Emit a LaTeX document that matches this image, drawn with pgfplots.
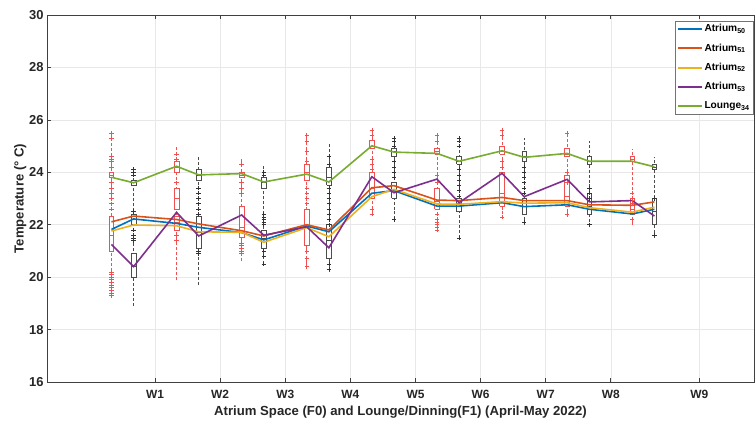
\documentclass[border=0pt]{standalone}
\usepackage{fontspec}
\setmainfont{Liberation Sans}
\usepackage{pgfplots}
\pgfplotsset{compat=1.18}
\definecolor{mBlue}{HTML}{0072BD}
\definecolor{mOrange}{HTML}{D95319}
\definecolor{mYellow}{HTML}{EDB120}
\definecolor{mPurple}{HTML}{7E2F8E}
\definecolor{mGreen}{HTML}{77AC30}
\definecolor{boxRed}{HTML}{F05050}

% box: color, position, lower whisker, lower quartile, median, upper quartile, upper whisker
\newcommand{\bxp}[7]{%
  \pgfmathsetmacro\xa{#2-0.036}\pgfmathsetmacro\xb{#2+0.036}%
  \addplot[forget plot, #1, densely dashed, line width=0.6bp] coordinates {(#2,#3) (#2,#7)};
  \edef\tmp{\noexpand\addplot[forget plot, #1, fill=white, line width=0.7bp]
    coordinates {(\xa,#4) (\xb,#4) (\xb,#6) (\xa,#6) (\xa,#4)};}\tmp
  \edef\tmp{\noexpand\addplot[forget plot, #1, line width=0.6bp]
    coordinates {(\xa,#5) (\xb,#5)};}\tmp
}

\begin{document}
\begin{tikzpicture}
\begin{axis}[
  scale only axis,
  width=707bp, height=367bp,
  xmin=-0.66, xmax=10.2,
  ymin=16, ymax=30,
  xtick={1,2,3,4,5,6,7,8,9.36},
  xticklabels={W1,W2,W3,W4,W5,W6,W7,W8,W9},
  ytick={16,18,...,30},
  tick align=inside,
  xtick pos=both, ytick pos=left,
  major tick length=4bp,
  grid=major,
  grid style={gray!18, line width=0.5bp},
  axis line style={black!75, line width=0.6bp},
  tick style={black!75, line width=0.6bp},
  /pgf/number format/assume math mode=true,
  xticklabel style={font=\bfseries\fontsize{12}{14}\selectfont, black!85, yshift=-5bp},
  yticklabel style={font=\bfseries\fontsize{13}{15}\selectfont, black!85},
  xlabel={Atrium Space (F0) and Lounge/Dinning(F1) (April-May 2022)},
  ylabel={Temperature (° C)},
  label style={font=\bfseries\fontsize{13.2}{15}\selectfont, black!85},
  xlabel style={yshift=0bp},
  ylabel style={yshift=-4bp},
  legend image code/.code={\draw[#1] (0bp,0bp) -- (24bp,0bp);},
  legend style={at={(0.999,0.985)}, anchor=north east, draw=black!55,
    font=\bfseries\fontsize{10.2}{12}\selectfont, inner sep=1.5bp,
    row sep=6.6bp, cells={anchor=west}},
  legend cell align=left,
  clip=false,
]
\path (rel axis cs:0,0) coordinate (ll) (rel axis cs:1,1) coordinate (ur);

\addlegendimage{mBlue, line width=2bp}\addlegendentry{Atrium\textsubscript{50}}
\addlegendimage{mOrange, line width=2bp}\addlegendentry{Atrium\textsubscript{51}}
\addlegendimage{mYellow, line width=2bp}\addlegendentry{Atrium\textsubscript{52}}
\addlegendimage{mPurple, line width=2bp}\addlegendentry{Atrium\textsubscript{53}}
\addlegendimage{mGreen, line width=2bp}\addlegendentry{Lounge\textsubscript{34}}

% ---- box plots (F0 red, F1 black)
\bxp{boxRed}{0.33}{19.3}{21.0}{21.6}{22.3}{25.5}
\bxp{boxRed}{0.33}{23.8}{23.8}{23.9}{24.0}{24.0}
\bxp{black!70}{0.67}{18.9}{22.0}{22.2}{22.4}{24.1}
\bxp{black!70}{0.67}{23.5}{23.5}{23.6}{23.7}{23.7}
\bxp{black!70}{0.67}{20.0}{20.0}{20.4}{20.9}{20.9}
\bxp{boxRed}{1.33}{19.9}{21.8}{22.1}{22.3}{25.0}
\bxp{boxRed}{1.33}{22.6}{22.6}{23.0}{23.4}{23.4}
\bxp{boxRed}{1.33}{24.0}{24.0}{24.2}{24.4}{24.4}
\bxp{black!70}{1.67}{19.7}{21.1}{21.7}{22.3}{24.6}
\bxp{black!70}{1.67}{23.7}{23.7}{23.9}{24.1}{24.1}
\bxp{boxRed}{2.33}{20.6}{21.5}{21.9}{22.7}{24.5}
\bxp{boxRed}{2.33}{23.8}{23.8}{23.9}{24.0}{24.0}
\bxp{black!70}{2.67}{20.5}{21.1}{21.5}{21.8}{24.3}
\bxp{black!70}{2.67}{23.4}{23.4}{23.6}{23.8}{23.8}
\bxp{boxRed}{3.33}{20.3}{21.2}{21.9}{22.6}{25.4}
\bxp{boxRed}{3.33}{23.7}{23.7}{24.0}{24.3}{24.3}
\bxp{black!70}{3.67}{20.2}{20.7}{21.4}{22.0}{25.1}
\bxp{black!70}{3.67}{23.5}{23.5}{23.8}{24.2}{24.2}
\bxp{boxRed}{4.33}{22.4}{23.0}{23.4}{24.0}{25.6}
\bxp{boxRed}{4.33}{24.9}{24.9}{25.0}{25.2}{25.2}
\bxp{black!70}{4.67}{22.2}{23.0}{23.3}{23.6}{25.3}
\bxp{black!70}{4.67}{24.6}{24.6}{24.8}{24.9}{24.9}
\bxp{boxRed}{5.33}{21.8}{22.6}{22.9}{23.4}{25.4}
\bxp{boxRed}{5.33}{24.7}{24.7}{24.8}{24.9}{24.9}
\bxp{black!70}{5.67}{21.5}{22.5}{22.8}{23.0}{25.3}
\bxp{black!70}{5.67}{24.3}{24.3}{24.4}{24.6}{24.6}
\bxp{boxRed}{6.33}{22.2}{22.7}{23.2}{24.0}{25.6}
\bxp{boxRed}{6.33}{24.7}{24.7}{24.8}{25.0}{25.0}
\bxp{black!70}{6.67}{22.0}{22.4}{22.7}{23.0}{25.3}
\bxp{black!70}{6.67}{24.4}{24.4}{24.6}{24.8}{24.8}
\bxp{boxRed}{7.33}{22.3}{22.7}{23.1}{23.9}{25.5}
\bxp{boxRed}{7.33}{24.6}{24.6}{24.7}{24.9}{24.9}
\bxp{black!70}{7.67}{21.9}{22.4}{22.7}{23.2}{25.2}
\bxp{black!70}{7.67}{24.3}{24.3}{24.4}{24.6}{24.6}
\bxp{boxRed}{8.33}{22.0}{22.4}{22.6}{23.0}{24.9}
\bxp{boxRed}{8.33}{24.4}{24.4}{24.5}{24.6}{24.6}
\bxp{black!70}{8.67}{21.5}{22.0}{22.5}{23.0}{24.6}
\bxp{black!70}{8.67}{24.1}{24.1}{24.2}{24.3}{24.3}

% ---- outliers
\addplot[forget plot, only marks, mark=+, mark size=2.2bp, boxRed, line width=0.6bp] coordinates {
 (0.33,19.3) (0.33,19.4) (0.33,19.5) (0.33,19.6) (0.33,19.7) (0.33,19.8) (0.33,19.9) (0.33,20.0) (0.33,20.1) (0.33,20.2)
 (0.33,22.6) (0.33,22.8) (0.33,23.0) (0.33,23.2) (0.33,23.4) (0.33,23.6) (0.33,24.2) (0.33,24.4) (0.33,24.5) (0.33,24.6) (0.33,25.3) (0.33,25.5)
 (1.33,21.4) (1.33,21.6) (1.33,23.6) (1.33,24.5) (1.33,24.7)
 (2.33,20.9) (2.33,21.0) (2.33,21.1) (2.33,21.2) (2.33,21.3) (2.33,23.2) (2.33,23.4) (2.33,23.6) (2.33,24.3)
 (3.33,20.4) (3.33,20.7) (3.33,21.0) (3.33,22.8) (3.33,23.0) (3.33,23.2) (3.33,23.4) (3.33,24.4) (3.33,24.8) (3.33,25.2) (3.33,25.4)
 (4.33,22.4) (4.33,22.6) (4.33,24.1) (4.33,24.3) (4.33,24.5) (4.33,25.4) (4.33,25.6)
 (5.33,21.8) (5.33,21.9) (5.33,22.0) (5.33,22.1) (5.33,22.2) (5.33,22.4) (5.33,23.6) (5.33,23.9) (5.33,25.2) (5.33,25.4)
 (6.33,22.3) (6.33,24.2) (6.33,24.4) (6.33,25.4) (6.33,25.6)
 (7.33,22.4) (7.33,23.6) (7.33,24.0) (7.33,25.5)
 (8.33,22.2) (8.33,22.8) (8.33,23.0) (8.33,23.2)
};
\addplot[forget plot, only marks, mark=+, mark size=2.2bp, black!80, line width=0.6bp] coordinates {
 (0.67,21.4) (0.67,21.5) (0.67,21.6) (0.67,21.8) (0.67,22.5) (0.67,23.9) (0.67,24.0) (0.67,24.1)
 (1.67,22.4) (1.67,22.6) (1.67,22.8) (1.67,23.0) (1.67,23.2) (1.67,23.4) (1.67,20.9) (1.67,21.0)
 (2.67,20.5) (2.67,20.8) (2.67,21.0) (2.67,22.0) (2.67,22.1) (2.67,22.2) (2.67,22.3) (2.67,22.4) (2.67,23.9) (2.67,24.0)
 (3.67,20.3) (3.67,20.5) (3.67,22.0) (3.67,22.2) (3.67,22.4) (3.67,22.6) (3.67,22.8) (3.67,23.0) (3.67,23.2) (3.67,23.4) (3.67,24.3) (3.67,24.6)
 (4.67,22.2) (4.67,23.8) (4.67,24.0) (4.67,24.2) (4.67,24.4) (4.67,25.0) (4.67,25.2) (4.67,25.3)
 (5.67,21.5) (5.67,23.1) (5.67,23.3) (5.67,23.5) (5.67,23.7) (5.67,23.9) (5.67,24.1) (5.67,25.0) (5.67,25.2) (5.67,25.3)
 (6.67,22.1) (6.67,23.2) (6.67,23.4) (6.67,23.6) (6.67,23.8) (6.67,24.0) (6.67,24.2)
 (7.67,22.0) (7.67,23.0) (7.67,23.2) (7.67,23.4)
 (8.67,21.6) (8.67,23.0)
};

% ---- mean lines
\addplot[forget plot, mBlue, line width=1.6bp] coordinates {
 (0.33,21.82) (0.67,22.22) (1.33,22.05) (1.67,21.90) (2.33,21.70) (2.67,21.42)
 (3.33,21.95) (3.67,21.73) (4.33,23.20) (4.67,23.30) (5.33,22.71) (5.67,22.71)
 (6.33,22.84) (6.67,22.69) (7.33,22.76) (7.67,22.59) (8.33,22.41) (8.67,22.59)};
\addplot[forget plot, mOrange, line width=1.6bp] coordinates {
 (0.33,22.11) (0.67,22.33) (1.33,22.20) (1.67,22.03) (2.33,21.77) (2.67,21.57)
 (3.33,22.00) (3.67,21.80) (4.33,23.41) (4.67,23.49) (5.33,22.94) (5.67,22.92)
 (6.33,23.04) (6.67,22.92) (7.33,22.92) (7.67,22.76) (8.33,22.74) (8.67,22.87)};
\addplot[forget plot, mYellow, line width=1.6bp] coordinates {
 (0.33,21.76) (0.67,21.99) (1.33,21.96) (1.67,21.73) (2.33,21.71) (2.67,21.33)
 (3.33,21.89) (3.67,21.54) (4.33,23.07) (4.67,23.35) (5.33,22.79) (5.67,22.78)
 (6.33,22.88) (6.67,22.82) (7.33,22.84) (7.67,22.65) (8.33,22.48) (8.67,22.67)};
\addplot[forget plot, mPurple, line width=1.6bp] coordinates {
 (0.33,21.25) (0.67,20.40) (1.33,22.47) (1.67,21.57) (2.33,22.37) (2.67,21.60)
 (3.33,21.92) (3.67,21.12) (4.33,23.83) (4.67,23.22) (5.33,23.74) (5.67,22.84)
 (6.33,23.96) (6.67,23.07) (7.33,23.73) (7.67,22.87) (8.33,22.92) (8.67,22.33)};
\addplot[forget plot, mGreen, line width=1.6bp] coordinates {
 (0.33,23.81) (0.67,23.60) (1.33,24.23) (1.67,23.90) (2.33,23.95) (2.67,23.63)
 (3.33,23.93) (3.67,23.63) (4.33,25.01) (4.67,24.77) (5.33,24.72) (5.67,24.42)
 (6.33,24.82) (6.67,24.57) (7.33,24.72) (7.67,24.42) (8.33,24.42) (8.67,24.21)};
\end{axis}
\pgfresetboundingbox
\path ([xshift=-47bp,yshift=-43bp]ll) rectangle ([xshift=1bp,yshift=15bp]ur);
\end{tikzpicture}
\end{document}
